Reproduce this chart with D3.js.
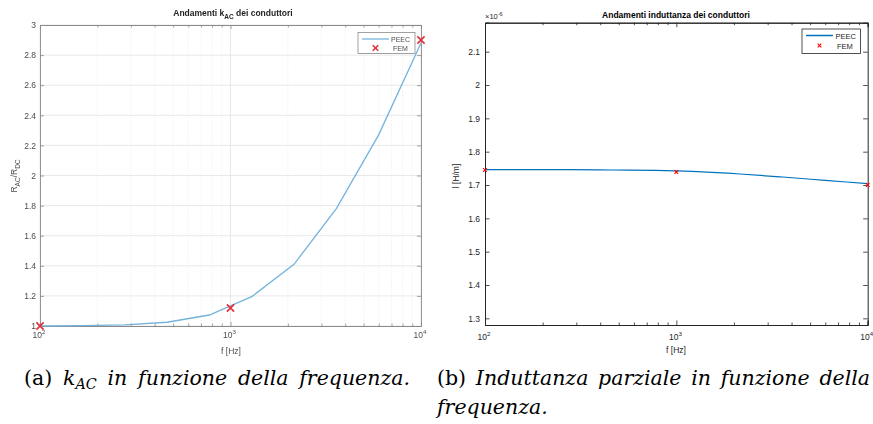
<!DOCTYPE html>
<html>
<head>
<meta charset="utf-8">
<script src="https://cdn.jsdelivr.net/npm/d3@7"></script>
<style>
  html, body { margin: 0; padding: 0; background: #fff; }
  svg { display: block; }
</style>
</head>
<body>
<svg id="fig" width="873" height="424"></svg>
<script>
// ---- data ----
// PEEC sweep frequencies (logarithmic grid, 10 points from 100 Hz to 10 kHz)
const peecFreq = [100, 166.8, 278.3, 464.2, 774.3, 1291.5, 2154.4, 3593.8, 5994.8, 10000];
// k_AC = R_AC / R_DC from PEEC
const peecKac = [1.000, 1.002, 1.008, 1.025, 1.073, 1.195, 1.41, 1.78, 2.27, 2.88];
// FEM check points
const femFreq = [100, 1000, 10000];
const femKac = [1.00, 1.12, 2.90];
// partial inductance [H/m]
const peecL = [1.746e-6, 1.746e-6, 1.746e-6, 1.745e-6, 1.744e-6, 1.740e-6, 1.733e-6, 1.724e-6, 1.714e-6, 1.704e-6];
const femL = [1.745e-6, 1.739e-6, 1.700e-6];
// tick values
const xDecades = [100, 1000, 10000];
const kacTicks = [1, 1.2, 1.4, 1.6, 1.8, 2, 2.2, 2.4, 2.6, 2.8, 3];
const lTicks = [1.3, 1.4, 1.5, 1.6, 1.7, 1.8, 1.9, 2.0, 2.1];

const SANS = "'Liberation Sans', Arial, Helvetica, sans-serif";
const SERIF = "'DejaVu Serif', 'Liberation Serif', serif";

const svg = d3.select("#fig");
const minorX = [];
for (const d of [100, 1000]) for (let k = 2; k <= 9; k++) minorX.push(d * k);

// soft look of the left panel
const defs = svg.append("defs");
defs.append("filter").attr("id", "soft").attr("x", "-5%").attr("y", "-5%").attr("width", "110%").attr("height", "110%")
  .append("feGaussianBlur").attr("stdDeviation", 0.55);

function sansText(g) {
  return g.append("text").attr("font-family", SANS);
}
function decadeLabel(g, x, y, exp, color, size) {
  const t = sansText(g).attr("x", x).attr("y", y)
    .attr("text-anchor", "middle").attr("fill", color).attr("font-size", size);
  t.append("tspan").text("10");
  t.append("tspan").attr("dy", -size * 0.45).attr("font-size", size * 0.72).text(exp);
}
function cross(gg, cx, cy, s, col, w) {
  gg.append("path").attr("d", `M${cx - s},${cy - s}L${cx + s},${cy + s}M${cx - s},${cy + s}L${cx + s},${cy - s}`)
    .attr("stroke", col).attr("stroke-width", w).attr("fill", "none");
}

// ================= (a) k_AC =================
{
  const L = 40, R = 421, T = 25, B = 326;
  const x = d3.scaleLog().domain([100, 10000]).range([L, R]);
  const y = d3.scaleLinear().domain([1, 3]).range([B, T]);
  const g = svg.append("g").attr("filter", "url(#soft)");
  const axisCol = "#8a8a8a", textCol = "#4d4d4d";

  // grid
  g.append("g").selectAll("line").data(minorX).join("line")
    .attr("x1", d => x(d)).attr("x2", d => x(d)).attr("y1", T).attr("y2", B)
    .attr("stroke", "#ebebeb").attr("stroke-width", 0.8).attr("stroke-dasharray", "1,1.5");
  g.append("g").selectAll("line").data(xDecades).join("line")
    .attr("x1", d => x(d)).attr("x2", d => x(d)).attr("y1", T).attr("y2", B)
    .attr("stroke", "#e2e2e2").attr("stroke-width", 0.8);
  g.append("g").selectAll("line").data(kacTicks).join("line")
    .attr("x1", L).attr("x2", R).attr("y1", d => y(d)).attr("y2", d => y(d))
    .attr("stroke", "#e2e2e2").attr("stroke-width", 0.8);

  // axes with inward ticks
  const ax = [
    [d3.axisBottom(x).tickValues(xDecades).tickSize(-4), `translate(0,${B})`],
    [d3.axisTop(x).tickValues(xDecades).tickSize(-4), `translate(0,${T})`],
    [d3.axisBottom(x).tickValues(minorX).tickSize(-2.5), `translate(0,${B})`],
    [d3.axisTop(x).tickValues(minorX).tickSize(-2.5), `translate(0,${T})`],
    [d3.axisLeft(y).tickValues(kacTicks).tickSize(-4), `translate(${L},0)`],
    [d3.axisRight(y).tickValues(kacTicks).tickSize(-4), `translate(${R},0)`]
  ];
  for (const [a, tr] of ax) {
    const ag = g.append("g").attr("transform", tr).call(a.tickFormat(""));
    ag.selectAll("line").attr("stroke", axisCol).attr("stroke-width", 0.8);
    ag.select(".domain").attr("stroke", axisCol).attr("stroke-width", 0.9);
  }
  // tick labels
  g.append("g").selectAll("text").data(kacTicks).join("text").attr("font-family", SANS)
    .attr("x", L - 4).attr("y", d => y(d) + 3.2).attr("text-anchor", "end")
    .attr("fill", textCol).attr("font-size", 8.5).text(d => d3.format("~g")(d));
  xDecades.forEach(d => decadeLabel(g, x(d) - 1, B + 12, Math.log10(d), textCol, 8.5));

  // curve
  g.append("path").datum(peecFreq.map((f, i) => [f, peecKac[i]]))
    .attr("d", d3.line().x(d => x(d[0])).y(d => y(d[1])))
    .attr("fill", "none").attr("stroke", "#74b3dc").attr("stroke-width", 1.3);
  // FEM crosses
  femFreq.forEach((f, i) => cross(g, x(f), y(femKac[i]), 3.6, "#e0323a", 1.7));

  // legend
  const lg = g.append("g");
  lg.append("rect").attr("x", 358).attr("y", 32.5).attr("width", 57).attr("height", 21)
    .attr("fill", "#fff").attr("stroke", "#8a8a8a").attr("stroke-width", 0.8);
  lg.append("line").attr("x1", 362).attr("x2", 389).attr("y1", 39).attr("y2", 39)
    .attr("stroke", "#74b3dc").attr("stroke-width", 1.3);
  cross(lg, 375.5, 48, 2.8, "#e0323a", 1.6);
  sansText(lg).attr("x", 391).attr("y", 41.5).attr("font-size", 7).attr("fill", textCol).text("PEEC");
  sansText(lg).attr("x", 393).attr("y", 50.5).attr("font-size", 7).attr("fill", textCol).text("FEM");

  // title and labels
  const tt = sansText(g).attr("x", 233).attr("y", 16).attr("text-anchor", "middle")
    .attr("font-size", 8.5).attr("font-weight", "bold").attr("fill", "#222");
  tt.append("tspan").text("Andamenti k");
  tt.append("tspan").attr("dy", 2.5).attr("font-size", 6.5).text("AC");
  tt.append("tspan").attr("dy", -2.5).text(" dei conduttori");
  sansText(g).attr("x", 231).attr("y", 354).attr("text-anchor", "middle")
    .attr("font-size", 8.5).attr("fill", textCol).text("f [Hz]");
  const yl = sansText(g).attr("transform", "translate(17,176) rotate(-90)")
    .attr("text-anchor", "middle").attr("font-size", 8.5).attr("fill", textCol);
  yl.append("tspan").text("R");
  yl.append("tspan").attr("dy", 2.5).attr("font-size", 6.5).text("AC");
  yl.append("tspan").attr("dy", -2.5).text("/R");
  yl.append("tspan").attr("dy", 2.5).attr("font-size", 6.5).text("DC");
}

// ================= (b) inductance =================
{
  const L = 485, R = 867.7, T = 22.7, B = 325;
  const x = d3.scaleLog().domain([100, 10000]).range([L, R]);
  const y = d3.scaleLinear().domain([1.28e-6, 2.187e-6]).range([B, T]);
  const g = svg.append("g");
  const axisCol = "#262626";

  const ax = [
    [d3.axisBottom(x).tickValues(xDecades).tickSize(-4.5), `translate(0,${B})`],
    [d3.axisTop(x).tickValues(xDecades).tickSize(-4.5), `translate(0,${T})`],
    [d3.axisBottom(x).tickValues(minorX).tickSize(-2.5), `translate(0,${B})`],
    [d3.axisTop(x).tickValues(minorX).tickSize(-2.5), `translate(0,${T})`],
    [d3.axisLeft(y).tickValues(lTicks.map(v => v * 1e-6)).tickSize(-4.5), `translate(${L},0)`],
    [d3.axisRight(y).tickValues(lTicks.map(v => v * 1e-6)).tickSize(-4.5), `translate(${R},0)`]
  ];
  for (const [a, tr] of ax) {
    const ag = g.append("g").attr("transform", tr).call(a.tickFormat(""));
    ag.selectAll("line").attr("stroke", axisCol).attr("stroke-width", 0.8);
    ag.select(".domain").attr("stroke", axisCol).attr("stroke-width", 1);
  }
  g.append("g").selectAll("text").data(lTicks).join("text").attr("font-family", SANS)
    .attr("x", L - 5).attr("y", d => y(d * 1e-6) + 3.2).attr("text-anchor", "end")
    .attr("fill", axisCol).attr("font-size", 8.5).text(d => d3.format("~g")(d));
  xDecades.forEach(d => decadeLabel(g, x(d) - 1, B + 15, Math.log10(d), axisCol, 8.5));
  // exponent note
  const ex = sansText(g).attr("x", L).attr("y", 19).attr("fill", axisCol).attr("font-size", 7.5);
  ex.append("tspan").text("\u00d710");
  ex.append("tspan").attr("dy", -3).attr("font-size", 5.5).text("-6");

  g.append("path").datum(peecFreq.map((f, i) => [f, peecL[i]]))
    .attr("d", d3.line().curve(d3.curveMonotoneX).x(d => x(d[0])).y(d => y(d[1])))
    .attr("fill", "none").attr("stroke", "#0072bd").attr("stroke-width", 1.2);
  femFreq.forEach((f, i) => cross(g, x(f), y(femL[i]), 1.8, "#ff0000", 1.1));

  // legend
  g.append("rect").attr("x", 802).attr("y", 29).attr("width", 58.5).attr("height", 24.5)
    .attr("fill", "#fff").attr("stroke", axisCol).attr("stroke-width", 0.8);
  g.append("line").attr("x1", 806).attr("x2", 833).attr("y1", 35.5).attr("y2", 35.5)
    .attr("stroke", "#0072bd").attr("stroke-width", 1.5);
  cross(g, 819.5, 45.5, 1.8, "#ff0000", 1.1);
  sansText(g).attr("x", 835.5).attr("y", 38.5).attr("font-size", 7.5).attr("fill", axisCol).text("PEEC");
  sansText(g).attr("x", 837).attr("y", 48.5).attr("font-size", 7.5).attr("fill", axisCol).text("FEM");

  sansText(g).attr("x", 676).attr("y", 17.5).attr("text-anchor", "middle")
    .attr("font-size", 8.5).attr("font-weight", "bold").attr("fill", "#000").text("Andamenti induttanza dei conduttori");
  sansText(g).attr("x", 676).attr("y", 353).attr("text-anchor", "middle")
    .attr("font-size", 8.5).attr("fill", axisCol).text("f [Hz]");
  sansText(g).attr("transform", "translate(459,176) rotate(-90)")
    .attr("text-anchor", "middle").attr("font-size", 8.5).attr("fill", axisCol).text("l [H/m]");
}

// ================= captions =================
{
  const fs = 20.5;
  // stretch inter-word spaces so a line fills the given width
  const justify = (t, x0, x1) => {
    const words = t.text().split(" ").length - 1;
    const w = t.node().getComputedTextLength();
    t.attr("word-spacing", Math.max(0, (x1 - x0 - w) / words));
  };
  const a = svg.append("text").attr("font-family", SERIF).attr("x", 24).attr("y", 385).attr("font-size", fs).attr("fill", "#000");
  a.append("tspan").text("(a) ");
  a.append("tspan").attr("font-style", "italic").text("k");
  a.append("tspan").attr("font-style", "italic").attr("font-size", fs * 0.7).attr("dy", 3.5).text("AC");
  a.append("tspan").attr("font-style", "italic").attr("dy", -3.5).text(" in funzione della frequenza.");
  justify(a, 24, 410);

  const b = svg.append("text").attr("font-family", SERIF).attr("x", 437).attr("y", 385).attr("font-size", fs).attr("fill", "#000");
  b.append("tspan").text("(b) ");
  b.append("tspan").attr("font-style", "italic").text("Induttanza parziale in funzione della");
  justify(b, 437, 870);
  svg.append("text").attr("font-family", SERIF).attr("x", 437).attr("y", 414).attr("font-size", fs)
    .attr("font-style", "italic").attr("fill", "#000").text("frequenza.");
}
</script>
</body>
</html>
